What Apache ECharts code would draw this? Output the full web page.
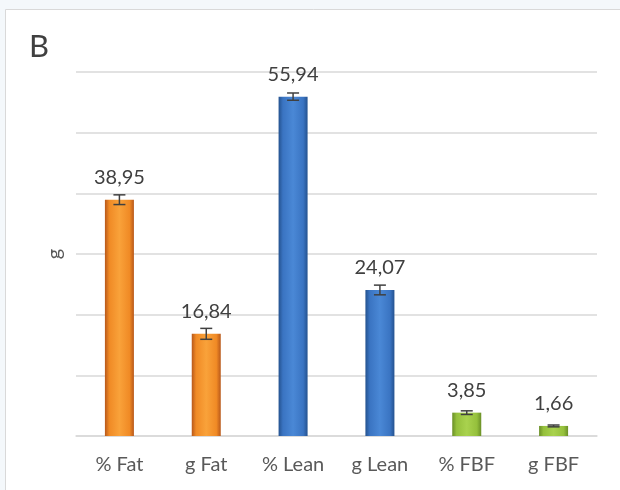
<!DOCTYPE html>
<html>
<head>
<meta charset="utf-8">
<script src="https://cdn.jsdelivr.net/npm/echarts@6/dist/echarts.min.js"></script>
<style>
html,body{margin:0;padding:0;background:#f4f8fb;}
#c{width:620px;height:490px;}
</style>
</head>
<body>
<div id="c"></div>
<script>
var categories = ['% Fat', 'g Fat', '% Lean', 'g Lean', '% FBF', 'g FBF'];
var values = [38.95, 16.84, 55.94, 24.07, 3.85, 1.66];
var errors = [0.8, 0.9, 0.6, 0.8, 0.3, 0.15];
var groups = ['orange', 'orange', 'blue', 'blue', 'green', 'green'];
var yTicks = [0, 10, 20, 30, 40, 50, 60];

var palettes = {
  orange: ['#b8581a', '#f08a25', '#f9a23a', '#f08a25', '#b8581a'],
  blue:   ['#24528f', '#3a74c2', '#4a88d6', '#3a74c2', '#24528f'],
  green:  ['#6a8f27', '#95c03c', '#a9d24e', '#95c03c', '#6a8f27']
};
function grad(name){
  var p = palettes[name];
  return new echarts.graphic.LinearGradient(0,0,1,0,[
    {offset:0,color:p[0]},{offset:0.15,color:p[1]},{offset:0.5,color:p[2]},
    {offset:0.85,color:p[3]},{offset:1,color:p[4]}
  ]);
}

var FONT = 'Lato, "Noto Sans", sans-serif';
var chart = echarts.init(document.getElementById('c'));
var barData = values.map(function(v,i){
  return {value:v, itemStyle:{color:grad(groups[i])}};
});
var errData = values.map(function(v,i){ return [i, v - errors[i], v + errors[i]]; });

chart.setOption({
  animation:false,
  textStyle:{fontFamily:FONT},
  graphic:[
    {type:'rect', z:-10, shape:{x:5.5,y:9.5,width:700,height:600},
     style:{fill:'#ffffff', stroke:'#d9d9d9', lineWidth:1}},
    {type:'text', left:29, top:31,
     style:{text:'B', fontSize:31, fill:'#404040', fontFamily:FONT}}
  ],
  grid:{left:76, right:23, top:72, bottom:54},
  xAxis:{
    type:'category', data:categories,
    axisTick:{show:false},
    axisLine:{lineStyle:{color:'#d9d9d9', width:1.5}},
    axisLabel:{color:'#595959', fontSize:20, margin:19}
  },
  yAxis:{
    type:'value', min:yTicks[0], max:yTicks[yTicks.length-1], interval:10,
    name:'g', nameLocation:'middle', nameGap:11, nameRotate:90,
    nameTextStyle:{color:'#595959', fontSize:20},
    axisLabel:{show:false}, axisTick:{show:false}, axisLine:{show:false},
    splitLine:{lineStyle:{color:'#d9d9d9', width:1.5}}
  },
  series:[
    {
      type:'bar', data:barData, barWidth:29,
      label:{show:true, position:'top', distance:12, color:'#404040', fontSize:20,
        formatter:function(p){ return p.value.toFixed(2).replace('.', ','); }}
    },
    {
      type:'custom', data:errData, z:5,
      renderItem:function(params, api){
        var x = api.value(0);
        var lo = api.coord([x, api.value(1)]);
        var hi = api.coord([x, api.value(2)]);
        var cap = 6;
        var st = {stroke:'#404040', lineWidth:1.5};
        return {type:'group', children:[
          {type:'line', shape:{x1:lo[0],y1:lo[1],x2:hi[0],y2:hi[1]}, style:st},
          {type:'line', shape:{x1:lo[0]-cap,y1:lo[1],x2:lo[0]+cap,y2:lo[1]}, style:st},
          {type:'line', shape:{x1:hi[0]-cap,y1:hi[1],x2:hi[0]+cap,y2:hi[1]}, style:st}
        ]};
      }
    }
  ]
});
</script>
</body>
</html>
